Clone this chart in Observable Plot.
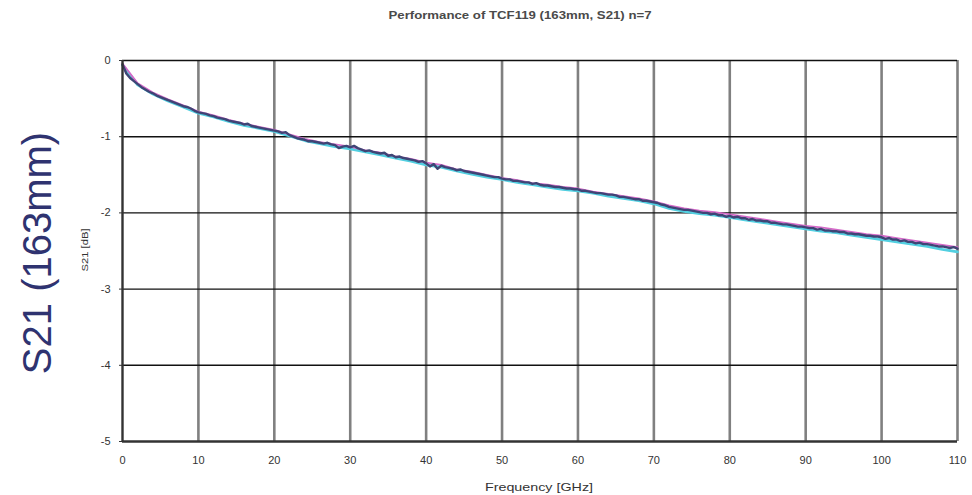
<!DOCTYPE html>
<html>
<head>
<meta charset="utf-8">
<script src="https://cdn.jsdelivr.net/npm/d3@7"></script>
<script src="https://cdn.jsdelivr.net/npm/@observablehq/plot@0.6"></script>
<style>
  html, body { margin: 0; padding: 0; background: #fff; }
  #wrap { position: relative; width: 972px; height: 495px; overflow: hidden; font-family: "Liberation Sans", Arial, sans-serif; }
  #chart { position: absolute; left: 0; top: 0; }
  .lbl { position: absolute; white-space: nowrap; color: #333; }
</style>
</head>
<body>
<div id="wrap">
  <div id="chart"></div>
  <div class="lbl" id="title" style="left:520px; top:9px; font-size:11px; font-weight:bold; color:#4a4a4a; transform:translateX(-50%) scaleX(1.2);">Performance of TCF119 (163mm, S21) n=7</div>
  <div class="lbl" id="xlab" style="left:539px; top:481px; font-size:11px; transform:translateX(-50%) scaleX(1.3);">Frequency [GHz]</div>
  <div class="lbl" id="ylab" style="left:85px; top:250px; font-size:9px; transform:translate(-50%,-50%) rotate(-90deg) scaleX(1.25);">S21 [dB]</div>
  <div class="lbl" id="big" style="left:37px; top:253px; font-size:40px; color:#2f3370; transform:translate(-50%,-50%) rotate(-90deg);">S21 (163mm)</div>
</div>
<script>
// ---- data ----
const xTicks = [0, 10, 20, 30, 40, 50, 60, 70, 80, 90, 100, 110];
const yTicks = [0, -1, -2, -3, -4, -5];

// main (navy) trace, samples every 0.5 GHz from 0 to 110 GHz
const navyStep = 0.5;
const navy = [
 -0.05,-0.17,-0.23,-0.27,-0.31,-0.35,-0.38,-0.41,-0.43,-0.46,
 -0.48,-0.50,-0.52,-0.54,-0.56,-0.58,-0.60,-0.61,-0.63,-0.66,
 -0.68,-0.69,-0.70,-0.72,-0.73,-0.75,-0.76,-0.77,-0.79,-0.80,
 -0.81,-0.82,-0.84,-0.83,-0.86,-0.87,-0.88,-0.89,-0.90,-0.91,
 -0.92,-0.93,-0.95,-0.94,-0.98,-1.00,-1.02,-1.03,-1.04,-1.06,
 -1.06,-1.07,-1.08,-1.09,-1.08,-1.10,-1.11,-1.15,-1.13,-1.12,
 -1.14,-1.12,-1.15,-1.17,-1.19,-1.18,-1.20,-1.21,-1.22,-1.21,
 -1.25,-1.24,-1.27,-1.26,-1.28,-1.29,-1.30,-1.31,-1.33,-1.32,
 -1.35,-1.39,-1.36,-1.42,-1.38,-1.40,-1.41,-1.42,-1.44,-1.43,
 -1.45,-1.46,-1.47,-1.48,-1.49,-1.50,-1.51,-1.52,-1.53,-1.53,
 -1.55,-1.56,-1.56,-1.58,-1.58,-1.59,-1.60,-1.60,-1.62,-1.61,
 -1.63,-1.64,-1.64,-1.65,-1.66,-1.66,-1.67,-1.68,-1.68,-1.69,
 -1.69,-1.71,-1.71,-1.72,-1.73,-1.74,-1.74,-1.75,-1.76,-1.76,
 -1.77,-1.79,-1.79,-1.80,-1.81,-1.82,-1.82,-1.84,-1.84,-1.85,
 -1.86,-1.87,-1.89,-1.90,-1.92,-1.93,-1.94,-1.95,-1.96,-1.96,
 -1.97,-1.98,-1.99,-2.00,-2.00,-2.02,-2.01,-2.03,-2.03,-2.05,
 -2.04,-2.06,-2.05,-2.07,-2.07,-2.09,-2.08,-2.10,-2.10,-2.11,
 -2.11,-2.13,-2.13,-2.14,-2.15,-2.15,-2.16,-2.17,-2.18,-2.18,
 -2.19,-2.20,-2.20,-2.22,-2.21,-2.23,-2.23,-2.24,-2.24,-2.25,
 -2.25,-2.27,-2.27,-2.28,-2.28,-2.29,-2.30,-2.30,-2.31,-2.31,
 -2.32,-2.34,-2.33,-2.35,-2.35,-2.37,-2.36,-2.38,-2.38,-2.40,
 -2.39,-2.41,-2.41,-2.42,-2.43,-2.44,-2.44,-2.45,-2.46,-2.45,
 -2.47
];

// secondary traces, samples every 2 GHz from 0 to 110 GHz
const sideStep = 2;
const cyan = [
 -0.06,-0.32,-0.44,-0.53,-0.61,-0.69,-0.74,-0.80,-0.85,-0.89,
 -0.93,-0.99,-1.05,-1.09,-1.13,-1.16,-1.20,-1.24,-1.28,-1.32,
 -1.37,-1.40,-1.45,-1.49,-1.53,-1.56,-1.60,-1.63,-1.66,-1.69,
 -1.71,-1.74,-1.78,-1.81,-1.84,-1.88,-1.94,-1.98,-2.01,-2.03,
 -2.06,-2.09,-2.12,-2.15,-2.18,-2.21,-2.24,-2.26,-2.29,-2.32,
 -2.35,-2.38,-2.41,-2.44,-2.48,-2.51
];
const magenta = [
 -0.04,-0.30,-0.42,-0.51,-0.59,-0.67,-0.72,-0.78,-0.83,-0.87,
 -0.91,-0.97,-1.03,-1.07,-1.10,-1.13,-1.18,-1.21,-1.26,-1.29,
 -1.34,-1.37,-1.43,-1.46,-1.50,-1.54,-1.57,-1.61,-1.63,-1.66,
 -1.68,-1.72,-1.75,-1.78,-1.81,-1.85,-1.90,-1.94,-1.97,-1.99,
 -2.02,-2.05,-2.08,-2.11,-2.14,-2.17,-2.19,-2.22,-2.25,-2.28,
 -2.30,-2.33,-2.36,-2.39,-2.42,-2.45
];

const seriesNames = ["cyan", "magenta", "navy"];
const seriesColors = ["#52cfe0", "#d46ac8", "#3f4575"];
const seriesWidths = [2.8, 1.8, 2.4];

// ---- build table for Plot ----
function toRows(vals, step, name) {
  return vals.map((v, i) => ({ f: i * step, s21: v, series: name }));
}
const rows = [
  ...toRows(cyan, sideStep, "cyan"),
  ...toRows(magenta, sideStep, "magenta"),
  ...toRows(navy, navyStep, "navy")
];

const lineMarks = seriesNames.map((name, k) =>
  Plot.line(rows.filter(d => d.series === name), {
    x: "f", y: "s21", stroke: seriesColors[k], strokeWidth: seriesWidths[k], strokeLinejoin: "round"
  })
);

const chart = Plot.plot({
  width: 972,
  height: 495,
  marginLeft: 122,
  marginRight: 15,
  marginTop: 60,
  marginBottom: 54,
  style: { fontFamily: "Liberation Sans, Arial, sans-serif", fontSize: "11px", color: "#333", background: "#fff" },
  x: { domain: [0, 110] },
  y: { domain: [-5, 0] },
  marks: [
    Plot.ruleX(xTicks.filter(t => t !== 0), { stroke: "#808080", strokeWidth: 2.6 }),
    Plot.ruleY(yTicks.filter(t => t !== -5), { stroke: "#111", strokeWidth: 1.4 }),
    ...lineMarks,
    Plot.ruleX([0], { stroke: "#333", strokeWidth: 2.4 }),
    Plot.ruleY([-5], { stroke: "#333", strokeWidth: 2.4 }),
    Plot.axisX({ ticks: xTicks, tickSize: 0, tickPadding: 15, label: null, tickFormat: d => String(d), fill: "#333" }),
    Plot.axisY({ ticks: yTicks, tickSize: 3, tickPadding: 9, label: null, tickFormat: d => String(d), fill: "#333" })
  ]
});
document.getElementById("chart").appendChild(chart);
</script>
</body>
</html>
